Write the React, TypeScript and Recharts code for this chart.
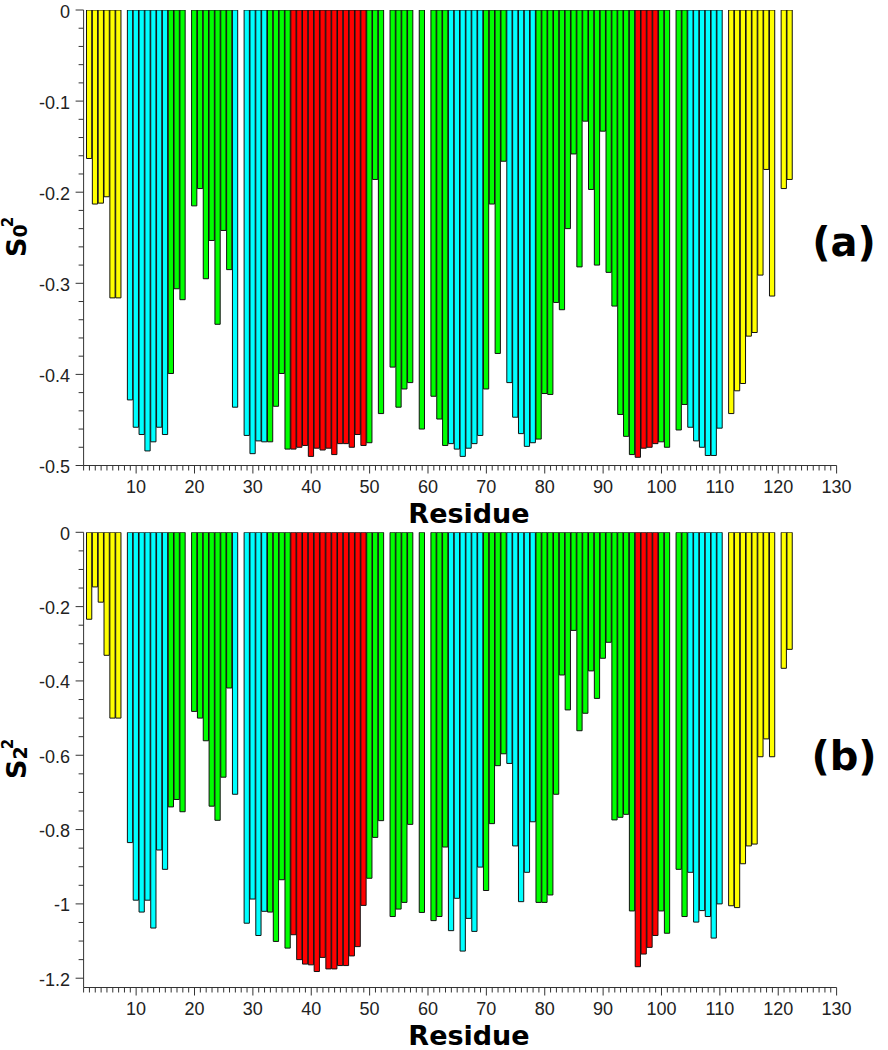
import React from 'react';
import { BarChart, Bar, XAxis, YAxis, Cell } from 'recharts';

// ---------- data ----------
const residues = [
  2, 3, 4, 5, 6, 7,
  9, 10, 11, 12, 13, 14, 15,
  16, 17, 18,
  20, 21, 22, 23, 24, 25, 26,
  27,
  29, 30, 31, 32,
  33, 34, 35, 36,
  37, 38, 39, 40, 41, 42, 43, 44, 45, 46, 47, 48, 49,
  50, 51, 52,
  54, 55, 56, 57,
  59,
  61, 62, 63,
  64, 65, 66, 67, 68, 69,
  70, 71, 72, 73,
  74, 75, 76, 77, 78,
  79, 80, 81, 82, 83, 84, 85, 86, 87, 88, 89, 90, 91, 92, 93, 94, 95,
  96, 97, 98, 99,
  100, 101,
  103, 104,
  105, 106, 107, 108, 109, 110,
  112, 113, 114, 115, 116, 117, 118, 119,
  121, 122,
];

const s0Values = [
  -0.163, -0.213, -0.212, -0.205, -0.316, -0.316,
  -0.428, -0.458, -0.466, -0.484, -0.474, -0.458, -0.466,
  -0.399, -0.306, -0.318,
  -0.215, -0.196, -0.295, -0.253, -0.345, -0.242, -0.285,
  -0.436,
  -0.467, -0.487, -0.473, -0.474,
  -0.474, -0.435, -0.399, -0.482,
  -0.482, -0.48, -0.478, -0.49, -0.481, -0.483, -0.481, -0.488, -0.476, -0.476, -0.48, -0.466, -0.478,
  -0.475, -0.186, -0.443,
  -0.392, -0.436, -0.416, -0.409,
  -0.46,
  -0.424, -0.449, -0.478,
  -0.476, -0.482, -0.49, -0.481, -0.476, -0.467,
  -0.416, -0.213, -0.377, -0.166,
  -0.409, -0.447, -0.465, -0.479, -0.475,
  -0.471, -0.421, -0.422, -0.321, -0.329, -0.24, -0.158, -0.282, -0.122, -0.197, -0.28, -0.133, -0.288, -0.325, -0.444, -0.468, -0.488,
  -0.491, -0.481, -0.48, -0.476,
  -0.474, -0.48,
  -0.461, -0.433,
  -0.458, -0.473, -0.48, -0.489, -0.489, -0.459,
  -0.443, -0.418, -0.41, -0.358, -0.354, -0.291, -0.175, -0.314,
  -0.196, -0.186,
];

const s2Values = [
  -0.234, -0.147, -0.188, -0.331, -0.5, -0.5,
  -0.835, -0.99, -1.022, -0.99, -1.065, -0.855, -0.907,
  -0.739, -0.719, -0.752,
  -0.482, -0.5, -0.561, -0.737, -0.775, -0.659, -0.419,
  -0.705,
  -1.052, -0.987, -1.085, -1.02,
  -1.022, -1.101, -0.935, -1.119,
  -1.083, -1.15, -1.162, -1.164, -1.182, -1.144, -1.175, -1.175, -1.166, -1.166, -1.14, -1.115, -1.004,
  -0.931, -0.821, -0.776,
  -1.034, -1.014, -0.996, -0.786,
  -1.023,
  -1.045, -1.034, -0.847,
  -1.072, -0.985, -1.127, -1.039, -1.074, -0.901,
  -0.964, -0.784, -0.628, -0.596,
  -0.622, -0.844, -0.994, -0.915, -0.779,
  -0.996, -0.996, -0.976, -0.705, -0.384, -0.478, -0.264, -0.534, -0.487, -0.373, -0.447, -0.339, -0.296, -0.774, -0.767, -0.759, -1.019,
  -1.169, -1.135, -1.117, -1.085,
  -1.019, -1.079,
  -0.907, -1.034,
  -0.915, -1.049, -1.018, -1.034, -1.092, -1.0,
  -1.005, -1.01, -0.892, -0.844, -0.839, -0.604, -0.556, -0.604,
  -0.366, -0.315,
];

// residue class segments: [class, first residue, last residue]
const segments: [string, number, number][] = [
  ['Y', 2, 7], ['C', 9, 15], ['G', 16, 26], ['C', 27, 32], ['G', 33, 36],
  ['R', 37, 49], ['G', 50, 63], ['C', 64, 69], ['G', 70, 73], ['C', 74, 78],
  ['G', 79, 95], ['R', 96, 99], ['G', 100, 104], ['C', 105, 110], ['Y', 112, 122],
];

const xMajorTicks = [10, 20, 30, 40, 50, 60, 70, 80, 90, 100, 110, 120, 130];
const s0MajorTicks = [0, -0.1, -0.2, -0.3, -0.4, -0.5];
const s0TickLabels = ['0', '-0.1', '-0.2', '-0.3', '-0.4', '-0.5'];
const s2MajorTicks = [0, -0.2, -0.4, -0.6, -0.8, -1, -1.2];
const s2TickLabels = ['0', '-0.2', '-0.4', '-0.6', '-0.8', '-1', '-1.2'];

// ---------- styles ----------
const classColor: Record<string, string> = {
  Y: '#ffff00',
  C: '#00ffff',
  G: '#00ff00',
  R: '#ff0000',
};
const AXIS = '#333333';
const TICK_FONT = 'Liberation Sans, Arial, sans-serif';
const BOLD_FONT = 'DejaVu Sans, sans-serif';

const classOf = (r: number) => {
  const s = segments.find(([, a, b]) => r >= a && r <= b);
  return s ? s[0] : 'G';
};

const tableData = residues.map((r, i) => ({
  residue: r,
  s0: s0Values[i],
  s2: s2Values[i],
  cls: classOf(r),
}));

const xAllTicks: number[] = [];
for (let i = 1; i <= 130; i++) xAllTicks.push(i);

const s0AllTicks: number[] = [];
for (let i = 0; i <= 25; i++) s0AllTicks.push(Math.round(-i * 0.02 * 1000) / 1000);
const s2AllTicks: number[] = [];
for (let i = 0; i <= 24; i++) s2AllTicks.push(Math.round(-i * 0.05 * 1000) / 1000);

// ---------- layout ----------
const W = 888;
const H = 528;
const PLOT_LEFT = 83.6;
const PLOT_RIGHT = 836.6;
const BAR_SIZE = (PLOT_RIGHT - PLOT_LEFT) / 129;

const XTick = (props: any) => {
  const { x, y, payload } = props;
  const v = payload.value;
  const idx = xMajorTicks.indexOf(v);
  const major = idx >= 0;
  return (
    <g>
      <line x1={x} y1={y} x2={x} y2={y + (major ? 8 : 5)} stroke={AXIS} strokeWidth={1} />
      {major && (
        <text x={x} y={y + 27.5} textAnchor="middle" fontFamily={TICK_FONT} fontSize={18} fill="#222">
          {String(v)}
        </text>
      )}
    </g>
  );
};

const makeYTick = (majors: number[], labels: string[]) => (props: any) => {
  const { x, y, payload } = props;
  const v = payload.value;
  const idx = majors.findIndex((m) => Math.abs(m - v) < 1e-6);
  const major = idx >= 0;
  return (
    <g>
      <line x1={x - (major ? 8 : 5)} y1={y} x2={x} y2={y} stroke={AXIS} strokeWidth={1} />
      {major && (
        <text x={x - 13.5} y={y + 7.5} textAnchor="end" fontFamily={TICK_FONT} fontSize={18} fill="#222">
          {labels[idx]}
        </text>
      )}
    </g>
  );
};

const S0Tick = makeYTick(s0MajorTicks, s0TickLabels);
const S2Tick = makeYTick(s2MajorTicks, s2TickLabels);

const yLabel = (sub: string, ty: number) => () => (
  <text transform={`translate(26,${ty}) rotate(-90)`} fontFamily={BOLD_FONT} fontWeight="bold" fill="#000">
    <tspan fontSize={27}>S</tspan>
    <tspan fontSize={19} dy={1}>{sub}</tspan>
    <tspan fontSize={15} dx={-3} dy={-14}>2</tspan>
  </text>
);

const xLabel = (panel: string, panelY: number) => () => (
  <g>
    <text x={469} y={523} textAnchor="middle" fontFamily={BOLD_FONT} fontWeight="bold" fontSize={27} fill="#000">
      Residue
    </text>
    <text x={844} y={panelY} textAnchor="middle" fontFamily={BOLD_FONT} fontWeight="bold" fontSize={40} fill="#000">
      {panel}
    </text>
  </g>
);

type PanelProps = {
  dataKey: 's0' | 's2';
  domainMin: number;
  ticks: number[];
  tick: any;
  sub: string;
  panel: string;
  top: number;
  marginTop: number;
  panelY: number;
};

const Panel = ({ dataKey, domainMin, ticks, tick, sub, panel, top, marginTop, panelY }: PanelProps) => {
  const plotBottom = 465.5;
  return (
    <div style={{ position: 'absolute', left: 0, top, width: W, height: H }}>
      <BarChart
        width={W}
        height={H}
        data={tableData}
        margin={{ top: marginTop, right: W - PLOT_RIGHT, left: 0, bottom: H - plotBottom - 40 }}
        barGap={0}
        barCategoryGap={0}
      >
        <XAxis
          type="number"
          dataKey="residue"
          domain={[1, 130]}
          ticks={xAllTicks}
          interval={0}
          tickSize={0}
          tickMargin={0}
          tickLine={false}
          tick={<XTick />}
          axisLine={{ stroke: AXIS, strokeWidth: 1 }}
          height={40}
          allowDataOverflow
          label={{ value: 'Residue', content: xLabel(panel, panelY) }}
        />
        <YAxis
          type="number"
          domain={[domainMin, 0]}
          ticks={ticks}
          interval={0}
          tickSize={0}
          tickMargin={0}
          tickLine={false}
          tick={tick}
          axisLine={{ stroke: AXIS, strokeWidth: 1 }}
          width={PLOT_LEFT}
          allowDataOverflow
          label={{ value: 'S', content: yLabel(sub, 257) }}
        />
        <Bar dataKey={dataKey} barSize={BAR_SIZE} stroke="#111" strokeWidth={1} isAnimationActive={false}>
          {tableData.map((d) => (
            <Cell key={d.residue} fill={classColor[d.cls]} />
          ))}
        </Bar>
      </BarChart>
    </div>
  );
};

export default function App() {
  return (
    <div style={{ position: 'absolute', left: 0, top: 0, width: W, height: 1050, background: '#fff' }}>
      <Panel
        dataKey="s0"
        domainMin={-0.5}
        ticks={s0AllTicks}
        tick={<S0Tick />}
        sub="0"
        panel="(a)"
        top={0}
        marginTop={10}
        panelY={256}
      />
      <Panel
        dataKey="s2"
        domainMin={-1.225}
        ticks={s2AllTicks}
        tick={<S2Tick />}
        sub="2"
        panel="(b)"
        top={522}
        marginTop={10.3}
        panelY={248}
      />
    </div>
  );
}
